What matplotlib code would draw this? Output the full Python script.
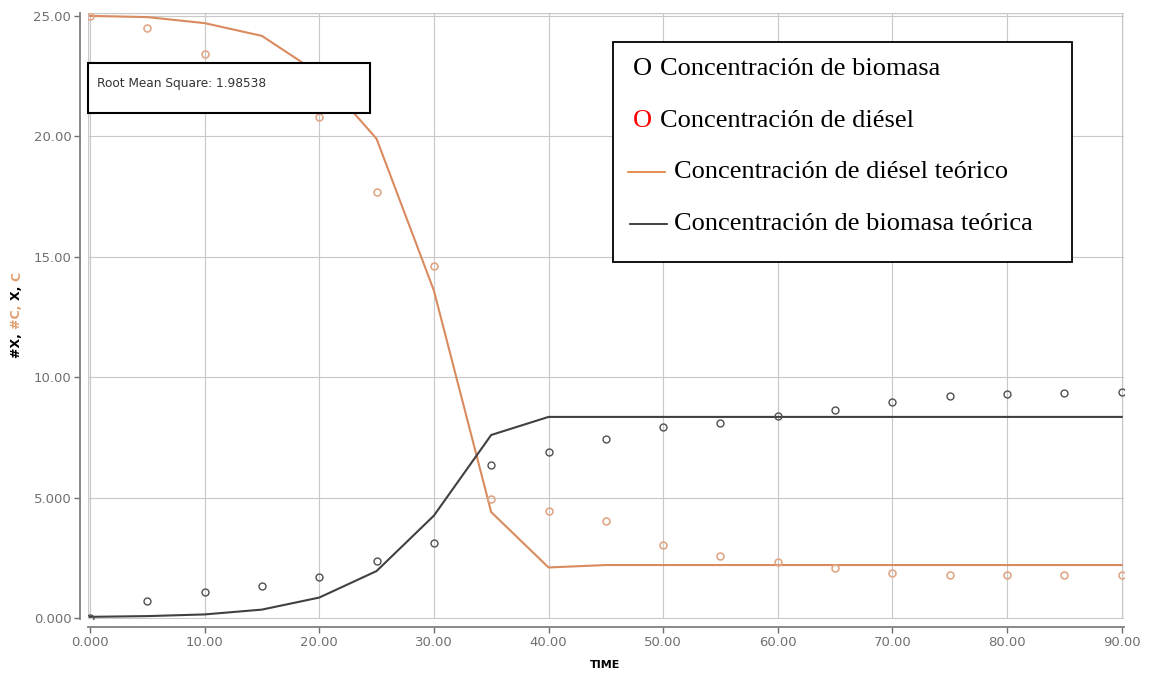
import matplotlib
matplotlib.use("Agg")
import matplotlib.pyplot as plt
from matplotlib.patches import Rectangle
from matplotlib.lines import Line2D

# measured points (every 5 time units)
t_obs = [0, 5, 10, 15, 20, 25, 30, 35, 40, 45, 50, 55, 60, 65, 70, 75, 80, 85, 90]
biomasa_obs = [0.0, 0.70, 1.08, 1.33, 1.70, 2.36, 3.10, 6.34, 6.88, 7.42, 7.92, 8.08,
               8.40, 8.62, 8.95, 9.20, 9.29, 9.33, 9.37]
diesel_obs = [25.0, 24.5, 23.4, 22.9, 20.8, 17.7, 14.6, 4.93, 4.44, 4.02, 3.03, 2.57,
              2.32, 2.07, 1.87, 1.78, 1.78, 1.78, 1.78]

# model curves
t_mod = [0, 5, 10, 15, 20, 25, 30, 35, 40, 45, 50, 55, 60, 65, 70, 75, 80, 85, 90]
diesel_mod = [25.0, 24.95, 24.7, 24.17, 22.6, 19.9, 13.6, 4.4, 2.1, 2.2, 2.2, 2.2,
              2.2, 2.2, 2.2, 2.2, 2.2, 2.2, 2.2]
biomasa_mod = [0.05, 0.08, 0.15, 0.35, 0.85, 1.95, 4.25, 7.6, 8.35, 8.35, 8.35, 8.35,
               8.35, 8.35, 8.35, 8.35, 8.35, 8.35, 8.35]

x_ticks = [0, 10, 20, 30, 40, 50, 60, 70, 80, 90]
x_labels = ["0.000", "10.00", "20.00", "30.00", "40.00", "50.00", "60.00", "70.00", "80.00", "90.00"]
y_ticks = [0, 5, 10, 15, 20, 25]
y_labels = ["0.000", "5.000", "10.00", "15.00", "20.00", "25.00"]

legend_items = ["Concentración de biomasa", "Concentración de diésel",
                "Concentración de diésel teórico", "Concentración de biomasa teórica"]

W, H = 1149, 675
fig = plt.figure(figsize=(W / 100, H / 100), dpi=100)
ax = fig.add_axes([88 / W, 1 - 619 / H, (1124 - 88) / W, (619 - 13) / H])

ax.set_xlim(-0.17, 90.2)
ax.set_ylim(-0.04, 25.12)

ax.grid(True, color="#c8c8c8", linewidth=0.8)
ax.set_axisbelow(True)
ax.add_patch(Rectangle((0, 0), 1, 1, transform=ax.transAxes, fill=False,
                       edgecolor="#c8c8c8", linewidth=1.0, zorder=0.5))

ax.plot(t_mod, diesel_mod, color="#d98a5e", linewidth=1.5, zorder=3)
ax.plot(t_mod, biomasa_mod, color="#404040", linewidth=1.5, zorder=3)
ax.plot(t_obs, diesel_obs, linestyle="none", marker="o", markersize=5, markerfacecolor="none",
        markeredgecolor="#e0a888", markeredgewidth=1.2, zorder=4)
ax.plot(t_obs, biomasa_obs, linestyle="none", marker="o", markersize=5, markerfacecolor="none",
        markeredgecolor="#505050", markeredgewidth=1.0, zorder=4)

ax.set_xticks(x_ticks)
ax.set_xticklabels(x_labels)
ax.set_yticks(y_ticks)
ax.set_yticklabels(y_labels)
ax.tick_params(colors="#707070", labelsize=9.5, length=4, width=1, pad=2)
for lab in ax.get_xticklabels() + ax.get_yticklabels():
    lab.set_color("#555555")

for s in ["top", "right"]:
    ax.spines[s].set_visible(False)
for s in ["left", "bottom"]:
    ax.spines[s].set_position(("outward", 6))
    ax.spines[s].set_color("#808080")
    ax.spines[s].set_linewidth(1.3)

fig.text(605 / W, 1 - 665 / H, "TIME", fontsize=8, fontweight="bold", ha="center", va="center")

# coloured y label "#X, #C, X, C"
parts = [("#X, ", "black"), ("#C, ", "#e0a070"), ("X, ", "black"), ("C", "#e0a070")]
y0 = 1 - 358 / H
for txt, col in parts:
    t = fig.text(17 / W, y0, txt, rotation=90, fontsize=9, fontweight="bold",
                 color=col, ha="center", va="bottom")
    fig.canvas.draw()
    bb = t.get_window_extent()
    y0 += bb.height / H

# RMS box
fig.patches.append(Rectangle((88 / W, 1 - 113 / H), (370 - 88) / W, (113 - 63) / H,
                             transform=fig.transFigure, facecolor="white",
                             edgecolor="black", linewidth=1.5, zorder=5))
fig.text(97 / W, 1 - 83 / H, "Root Mean Square: 1.98538", fontsize=8.7, color="#333333",
         va="center", ha="left", zorder=6)

# legend box
fig.patches.append(Rectangle((613 / W, 1 - 262 / H), (1072 - 613) / W, (262 - 42) / H,
                             transform=fig.transFigure, facecolor="white",
                             edgecolor="black", linewidth=1.3, zorder=5))
serif = ["Liberation Serif", "DejaVu Serif"]
fs = 19
rows_y = [69, 121, 172, 224]
fig.text(633 / W, 1 - rows_y[0] / H, "O", fontsize=fs, family=serif, color="black",
         va="center", zorder=6)
fig.text(660 / W, 1 - rows_y[0] / H, legend_items[0], fontsize=fs, family=serif,
         color="black", va="center", zorder=6)
fig.text(633 / W, 1 - rows_y[1] / H, "O", fontsize=fs, family=serif, color="red",
         va="center", zorder=6)
fig.text(660 / W, 1 - rows_y[1] / H, legend_items[1], fontsize=fs, family=serif,
         color="black", va="center", zorder=6)
fig.lines.append(Line2D([628 / W, 665 / W], [1 - rows_y[2] / H] * 2, transform=fig.transFigure,
                        color="#e07a30", linewidth=1.2, zorder=6))
fig.text(674 / W, 1 - rows_y[2] / H, legend_items[2], fontsize=fs, family=serif,
         color="black", va="center", zorder=6)
fig.lines.append(Line2D([630 / W, 667 / W], [1 - rows_y[3] / H] * 2, transform=fig.transFigure,
                        color="#202020", linewidth=1.2, zorder=6))
fig.text(674 / W, 1 - rows_y[3] / H, legend_items[3], fontsize=fs, family=serif,
         color="black", va="center", zorder=6)

fig.savefig("out.png", dpi=100)
